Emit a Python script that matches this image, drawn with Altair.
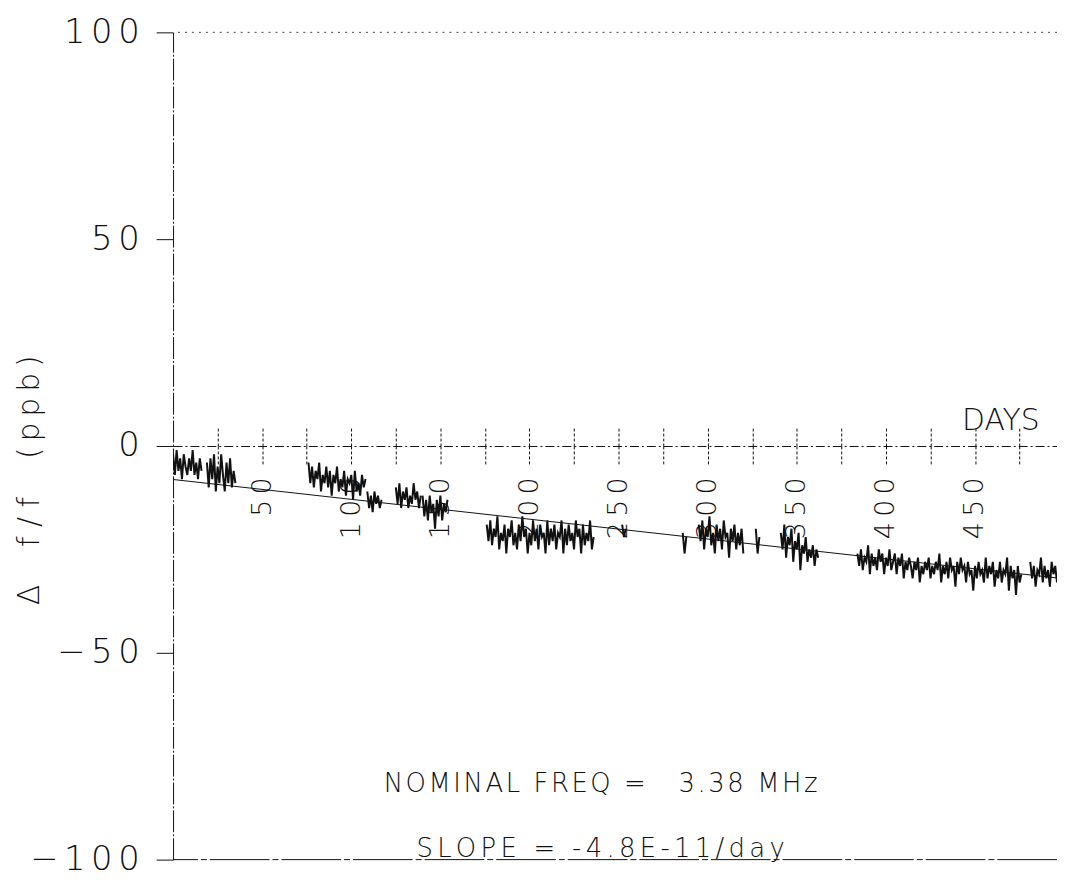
import altair as alt
import pandas as pd

# ---- data (days, delta f/f in ppb) ----
seg_start = [0, 19, 76, 109, 125, 140, 176, 252, 286, 295, 327, 341, 384, 481]
seg_values = [
    [-2, -7, -1, -6, -3, -8, -2, -5, -7, -3, -6, -1, -7, -4, -8, -3, -6],
    [-4, -10, -3, -8, -2, -11, -5, -9, -2, -7, -11, -4, -9, -3, -10, -6, -9],
    [-4, -9, -5, -10, -6, -8, -4, -11, -7, -9, -5, -10, -6, -12, -7, -9, -5,
     -11, -8, -10, -6, -12, -8, -9, -7, -13, -6, -11, -9, -12, -7, -10, -8],
    [-11, -15, -12, -16, -11, -14, -12, -15, -13],
    [-10, -14, -9, -15, -11, -13, -10, -15, -12, -14, -9, -13, -11, -15, -12],
    [-12, -17, -13, -18, -12, -16, -14, -20, -13, -17, -12, -18, -14, -16, -13],
    [-19, -23, -18, -24, -20, -22, -17, -25, -21, -23, -19, -26, -20, -22, -18,
     -24, -21, -25, -19, -23, -17, -22, -20, -26, -21, -24, -18, -23, -20, -25,
     -19, -22, -21, -26, -18, -24, -20, -23, -19, -25, -21, -22, -18, -26, -20,
     -24, -19, -23, -21, -25, -18, -22, -20, -26, -19, -24, -21, -23, -18, -25, -22],
    [-19, -22, -20],
    [-21, -26, -22],
    [-19, -23, -18, -25, -20, -22, -17, -24, -21, -26, -19, -23, -20, -25, -18,
     -22, -21, -27, -20, -23, -19, -25, -21, -24, -20, -26],
    [-20, -26, -22],
    [-21, -25, -19, -27, -22, -24, -20, -28, -23, -25, -21, -30, -24, -26, -22,
     -28, -25, -27, -24, -29, -25, -27],
    [-26, -29, -25, -30, -27, -28, -24, -31, -26, -29,
     -27, -30, -25, -28, -26, -31, -27, -29, -25, -30,
     -28, -26, -31, -27, -29, -26, -32, -28, -30, -27,
     -29, -32, -28, -30, -27, -33, -29, -31, -28, -30,
     -27, -32, -29, -31, -28, -30, -26, -33, -29, -31,
     -28, -32, -27, -30, -29, -34, -28, -31, -27, -30,
     -29, -33, -28, -31, -30, -35, -29, -32, -28, -31,
     -30, -33, -27, -32, -29, -31, -28, -34, -30, -32,
     -28, -33, -30, -31, -27, -35, -29, -32, -30, -36,
     -29, -33, -31],
    [-28, -32, -29, -34, -30, -31, -27, -33, -29, -32, -30, -34, -28, -31, -29, -33],
]

fit_days = [0, 496]
fit_values = [-8.1, -31.9]

x_ticks = list(range(25, 500, 25))
y_ticks = [-100, -50, 0, 50, 100]
frame_top = [100]
frame_bottom = [-100]

rows = []
for k, (s, vals) in enumerate(zip(seg_start, seg_values)):
    for i, v in enumerate(vals):
        rows.append({"day": s + i, "value": v, "seg": k})
df = pd.DataFrame(rows)
fit_df = pd.DataFrame({"day": fit_days, "value": fit_values})

FONT = "DejaVu Sans"
TS = "\u2009"   # thin space
SS = "\u2006"   # six-per-em space
HS = "\u200a"   # hair space
NB = "\u00a0"   # no-break space
INK = "#111111"

W, H = 889, 832
xscale = alt.Scale(domain=[0, 496], nice=False, zero=False)
yscale = alt.Scale(domain=[-100, 100], nice=False)

y_title = "Δ" + NB * 4 + ("f" + NB + "/" + NB + "f") + NB * 4 + TS.join("(ppb)")

x_axis_bottom = alt.Axis(
    orient="bottom", offset=-H / 2, values=x_ticks, grid=False,
    tickSize=19, tickDash=[3, 2], tickColor=INK, tickWidth=1,
    domain=True, domainDash=[9, 3, 2, 3], domainColor=INK, domainWidth=1,
    labelExpr="datum.value % 50 == 0 ? join(split(datum.label, ''), '" + TS + "') : ''",
    labelAngle=270, labelAlign="right", labelBaseline="middle",
    labelFont=FONT, labelFontWeight=200, labelFontSize=27, labelColor=INK,
    labelPadding=12, labelFlush=False, labelOverlap=False,
    title="DAYS", titleX=871, titleY=-11, titleAlign="right", titleBaseline="bottom",
    titleAngle=0, titleFont=FONT, titleFontWeight=200, titleFontSize=30, titleColor=INK,
)
x_axis_top = alt.Axis(
    orient="top", offset=-H / 2, values=x_ticks, grid=False,
    tickSize=19, tickDash=[3, 2], tickColor=INK, tickWidth=1,
    domain=False, labels=False, title=None,
)
y_axis = alt.Axis(
    values=y_ticks, grid=False,
    tickSize=17, tickColor=INK, tickWidth=1,
    domain=True, domainDash=[22, 2, 2, 2], domainColor=INK, domainWidth=1,
    labelExpr="join(split((datum.value < 0 ? '\u2212' : '') + abs(datum.value), ''), '" + SS + "')",
    labelFont=FONT, labelFontWeight=200, labelFontSize=34, labelColor=INK,
    labelPadding=17, labelBaseline="middle",
    title=y_title, titleX=-144, titleY=450, titleAngle=270,
    titleAlign="center", titleBaseline="middle",
    titleFont=FONT, titleFontWeight=200, titleFontSize=30, titleColor=INK,
)

data_line = alt.Chart(df).mark_line(color=INK, strokeWidth=2.0, clip=True).encode(
    x=alt.X("day:Q", scale=xscale, axis=x_axis_bottom),
    y=alt.Y("value:Q", scale=yscale, axis=y_axis),
    detail="seg:N",
)
fit_line = alt.Chart(fit_df).mark_line(color=INK, strokeWidth=1).encode(
    x=alt.X("day:Q", scale=xscale, axis=x_axis_top),
    y=alt.Y("value:Q", scale=yscale, axis=None),
)
top_rule = alt.Chart(pd.DataFrame({"v": frame_top})).mark_rule(
    color="#444444", strokeWidth=1, strokeDash=[2, 5]).encode(
    y=alt.Y("v:Q", scale=yscale, axis=None))
bottom_rule = alt.Chart(pd.DataFrame({"v": frame_bottom})).mark_rule(
    color=INK, strokeWidth=1, strokeDash=[60, 3, 6, 3]).encode(
    y=alt.Y("v:Q", scale=yscale, axis=None))

note1 = HS.join("NOMINAL FREQ =") + NB * 4 + HS.join("3.38 MHz")
note2 = SS.join("SLOPE = -4.8E-11/day")
notes = alt.Chart(pd.DataFrame({"t": [note1, note2], "py": [756, 821]})).mark_text(
    font=FONT, fontWeight=200, fontSize=26, color=INK, align="center", baseline="middle"
).encode(
    text="t:N",
    x=alt.value(430),
    y=alt.Y("py:Q", scale=alt.Scale(domain=[0, H], range=[0, H]), axis=None),
)

chart = (
    alt.layer(top_rule, bottom_rule, fit_line, data_line, notes)
    .resolve_axis(x="independent", y="independent")
    .resolve_scale(y="independent")
    .properties(
        width=W, height=H,
        autosize=alt.AutoSizeParams(type="none"),
        padding={"left": 166, "top": 22, "right": 0, "bottom": 18},
        background="white",
    )
    .configure_view(stroke=None)
)
chart.save("out.html", embed_options={"renderer": "svg", "actions": False})
